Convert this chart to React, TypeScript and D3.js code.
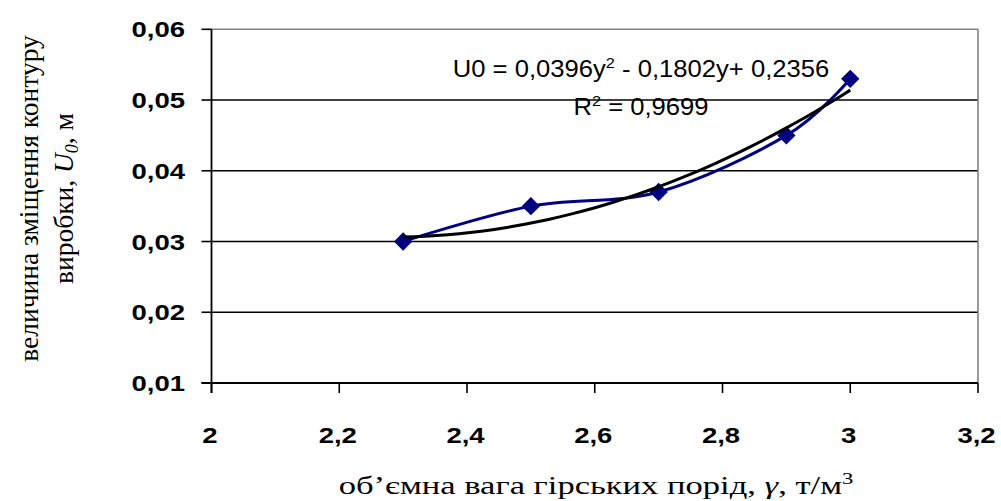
import React from "react";
import * as d3 from "d3";

const density = [2.3, 2.5, 2.7, 2.9, 3.0];
const displacement = [0.03, 0.035, 0.037, 0.045, 0.053];
const trendCoefficients = [0.0396, -0.1802, 0.2356];
const xTicks = [2, 2.2, 2.4, 2.6, 2.8, 3, 3.2];
const yTicks = [0.01, 0.02, 0.03, 0.04, 0.05, 0.06];
const equationText = "U0 = 0,0396y";
const equationRest = " - 0,1802y+ 0,2356";
const r2Text = "R";
const r2Rest = " = 0,9699";

const W = 1001;
const H = 501;
const left = 211.5;
const right = 978;
const top = 29.3;
const bottom = 383;

const sans = "'Liberation Sans', Arial, sans-serif";
const serif = "'Liberation Serif', 'Times New Roman', serif";

const tickSx = 1.25;
const tickFont = 22;

export default function App() {
  const x = d3.scaleLinear().domain([2, 3.2]).range([left, right]);
  const y = d3.scaleLinear().domain([0.01, 0.06]).range([bottom, top]);
  const fmt = (v: number, d: number) => v.toFixed(d).replace(".", ",");
  const fmtX = (v: number) => String(Math.round(v * 10) / 10).replace(".", ",");

  const pts: [number, number][] = density.map((d, i) => [d, displacement[i]]);
  const smooth = d3
    .line<[number, number]>()
    .x((d) => x(d[0]))
    .y((d) => y(d[1]))
    .curve(d3.curveCardinal.tension(0));

  const poly = (v: number) =>
    trendCoefficients[0] * v * v + trendCoefficients[1] * v + trendCoefficients[2];
  const xMin = d3.min(density) as number;
  const xMax = d3.max(density) as number;
  const trendPts: [number, number][] = d3
    .range(0, 41)
    .map((i) => xMin + ((xMax - xMin) * i) / 40)
    .map((v) => [v, poly(v)]);
  const straight = d3
    .line<[number, number]>()
    .x((d) => x(d[0]))
    .y((d) => y(d[1]));

  const diamond = d3.symbol().type(d3.symbolDiamond2).size(215)() as string;

  return (
    <svg
      width={W}
      height={H}
      style={{ position: "absolute", left: 0, top: 0, background: "#fff" }}
    >
      <rect x={0} y={0} width={W} height={H} fill="#fff" />
      {yTicks.slice(1, -1).map((t) => (
        <line key={t} x1={left} x2={right} y1={y(t)} y2={y(t)} stroke="#000" strokeWidth={1.6} />
      ))}
      <line x1={left} x2={right} y1={y(0.06)} y2={y(0.06)} stroke="#808080" strokeWidth={1.6} />
      <line x1={right} x2={right} y1={top} y2={bottom} stroke="#808080" strokeWidth={1.6} />
      <line x1={left} x2={left} y1={top} y2={bottom + 10} stroke="#000" strokeWidth={1.8} />
      <line x1={left - 10} x2={right} y1={bottom} y2={bottom} stroke="#000" strokeWidth={1.8} />
      {yTicks.map((t) => (
        <g key={t}>
          <line x1={left - 10} x2={left} y1={y(t)} y2={y(t)} stroke="#000" strokeWidth={1.6} />
          <g transform={`translate(185,${y(t) + 8}) scale(${tickSx},1)`}>
            <text x={0} y={0} textAnchor="end" fontFamily={sans} fontWeight="bold" fontSize={tickFont}>
              {fmt(t, 2)}
            </text>
          </g>
        </g>
      ))}
      {xTicks.map((t) => (
        <g key={t}>
          <line x1={x(t)} x2={x(t)} y1={bottom} y2={bottom + 10} stroke="#000" strokeWidth={1.6} />
          <g transform={`translate(${x(t) - 1.5},443) scale(${tickSx},1)`}>
            <text x={0} y={0} textAnchor="middle" fontFamily={sans} fontWeight="bold" fontSize={tickFont}>
              {fmtX(t)}
            </text>
          </g>
        </g>
      ))}
      <path d={smooth(pts) as string} fill="none" stroke="#000080" strokeWidth={3} />
      {pts.map((p, i) => (
        <path key={i} d={diamond} transform={`translate(${x(p[0])},${y(p[1])})`} fill="#000080" />
      ))}
      <path d={straight(trendPts) as string} fill="none" stroke="#000" strokeWidth={3} />
      <g transform="translate(641,77) scale(1.09,1)">
        <text x={0} y={0} textAnchor="middle" fontFamily={sans} fontSize={23.5}>
          {equationText}
          <tspan dy={-9} fontSize={15}>2</tspan>
          <tspan dy={9}>{equationRest}</tspan>
        </text>
      </g>
      <g transform="translate(641,115) scale(1.09,1)">
        <text x={0} y={0} textAnchor="middle" fontFamily={sans} fontSize={23.5}>
          {r2Text}
          <tspan dy={-9} fontSize={15}>2</tspan>
          <tspan dy={9}>{r2Rest}</tspan>
        </text>
      </g>
      <g transform="translate(38,198.5) rotate(-90)">
        <text x={0} y={0} textAnchor="middle" fontFamily={serif} fontSize={27.5}>
          величина зміщення контуру
        </text>
        <text x={0} y={35} textAnchor="middle" fontFamily={serif} fontSize={27.5}>
          виробки, <tspan fontStyle="italic">U</tspan>
          <tspan fontStyle="italic" fontSize={18} dy={5}>0</tspan>
          <tspan dy={-5}>, м</tspan>
        </text>
      </g>
      <g transform="translate(596,494) scale(1.33,1)">
        <text x={0} y={0} textAnchor="middle" fontFamily={serif} fontSize={26}>
          об’ємна вага гірських порід, <tspan fontStyle="italic">γ</tspan>, т/м
          <tspan dy={-10} fontSize={17}>3</tspan>
        </text>
      </g>
    </svg>
  );
}
